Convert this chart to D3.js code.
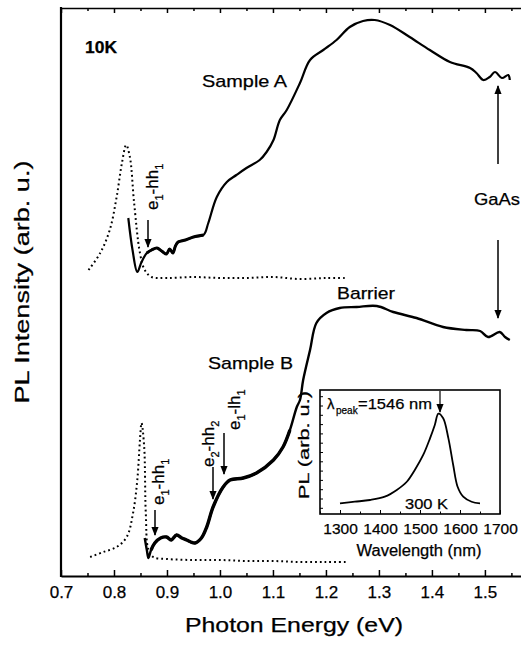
<!DOCTYPE html>
<html>
<head>
<meta charset="utf-8">
<script src="https://cdn.jsdelivr.net/npm/d3@7"></script>
<style>
  body { margin: 0; background: #fff; }
  svg { display: block; font-family: "Liberation Sans", Arial, sans-serif; }
  svg text { stroke: #000; stroke-width: 0.25px; fill: #000; }
</style>
</head>
<body>
<svg width="521" height="645"></svg>
<script>
// photon energy (eV) and PL intensity (arb. u.)
const energyA = [0.827, 0.835, 0.844, 0.852, 0.862, 0.871, 0.881, 0.890, 0.899, 0.905, 0.911, 0.916, 0.921, 0.935, 0.950, 0.969,
  0.978, 0.994, 1.013, 1.031, 1.050, 1.075, 1.088, 1.101, 1.113, 1.126, 1.151, 1.170, 1.195, 1.220, 1.245, 1.270, 1.292,
  1.321, 1.358, 1.396, 1.434, 1.472, 1.484, 1.497, 1.509, 1.519, 1.532, 1.544, 1.547];
const intensityA = [35.8, 32.6, 30.4, 31.4, 32.3, 32.6, 32.8, 32.5, 32.2, 32.7, 32.3, 33.0, 33.4, 33.6, 33.9, 34.1,
  35.3, 37.9, 39.4, 40.1, 40.8, 41.6, 42.4, 43.6, 45.6, 46.6, 49.3, 51.6, 52.6, 53.6, 54.9, 55.5, 55.6,
  55.1, 53.9, 52.6, 51.4, 50.8, 50.3, 49.6, 49.9, 50.4, 49.8, 50.1, 49.6];

const energyARef = [0.752, 0.774, 0.792, 0.805, 0.815, 0.823, 0.830, 0.838, 0.849, 0.858, 0.871, 0.90, 0.95, 1.00, 1.05, 1.10, 1.15, 1.20, 1.24];
const intensityARef = [30.6, 32.3, 34.6, 37.9, 41.3, 43.1, 41.9, 37.3, 32.3, 30.6, 29.9, 29.8, 29.9, 29.8, 29.8, 29.9, 29.7, 29.8, 29.8];

const energyB = [0.858, 0.862, 0.865, 0.870, 0.877, 0.888, 0.899, 0.908, 0.918, 0.928, 0.937, 0.945, 0.953, 0.965, 0.975,
  0.987, 1.006, 1.019, 1.044, 1.069, 1.101, 1.119, 1.132, 1.145, 1.151, 1.157, 1.170, 1.182, 1.201, 1.226, 1.258, 1.296,
  1.327, 1.371, 1.421, 1.465, 1.491, 1.506, 1.528, 1.538, 1.547];
const intensityB = [3.8, 2.6, 1.8, 2.6, 3.3, 3.8, 3.9, 3.6, 4.1, 3.8, 3.6, 3.4, 3.3, 3.8, 4.9,
  6.9, 8.9, 9.6, 9.8, 10.3, 11.6, 12.9, 14.6, 16.9, 17.6, 19.6, 22.6, 25.3, 26.3, 26.8, 26.9, 27.0,
  26.4, 25.8, 24.9, 24.6, 24.5, 23.9, 24.4, 23.9, 23.6];

const energyBRef = [0.755, 0.780, 0.805, 0.824, 0.836, 0.844, 0.849, 0.852, 0.857, 0.860, 0.865, 0.874, 0.90, 0.95, 1.00, 1.05, 1.10, 1.15, 1.20, 1.24];
const intensityBRef = [1.9, 2.4, 2.9, 3.9, 6.3, 9.6, 13.6, 15.3, 12.9, 6.3, 2.6, 1.9, 1.7, 1.6, 1.6, 1.5, 1.5, 1.4, 1.4, 1.4];

// inset: room temperature spectrum
const wavelength = [1300, 1337, 1375, 1412, 1442, 1467, 1487, 1508, 1525, 1537, 1546, 1558, 1571, 1583, 1594, 1608, 1629, 1650];
const intensityRT = [0.086, 0.099, 0.113, 0.140, 0.194, 0.260, 0.355, 0.476, 0.610, 0.718, 0.810, 0.772, 0.610, 0.395, 0.220, 0.140, 0.099, 0.086];

const energyTicks = [0.7, 0.8, 0.9, 1.0, 1.1, 1.2, 1.3, 1.4, 1.5];
const wavelengthTicks = [1300, 1400, 1500, 1600, 1700];

const svg = d3.select('svg');

const x = d3.scaleLinear().domain([0.7, 1.57]).range([61, 522]);
const y = d3.scaleLinear().domain([0, 56.8]).range([576, 8]);

const line = d3.line().curve(d3.curveCatmullRom.alpha(0.5)).x(d => x(d[0])).y(d => y(d[1]));
const zip = (a, b) => a.map((v, i) => [v, b[i]]);

// arrow marker
svg.append('defs').append('marker')
    .attr('id', 'head')
    .attr('markerUnits', 'userSpaceOnUse')
    .attr('viewBox', '0 0 10 10')
    .attr('refX', 9).attr('refY', 5)
    .attr('markerWidth', 9).attr('markerHeight', 9)
    .attr('orient', 'auto')
  .append('path')
    .attr('d', 'M0,1 L10,5 L0,9 Z')
    .attr('fill', '#000');

// curves
const curves = svg.append('g').attr('fill', 'none').attr('stroke', '#000').attr('stroke-linejoin', 'round');
curves.append('path').datum(zip(energyARef, intensityARef))
    .attr('d', line).attr('stroke-width', 2).attr('stroke-dasharray', '1.8,3');
curves.append('path').datum(zip(energyBRef, intensityBRef))
    .attr('d', line).attr('stroke-width', 2).attr('stroke-dasharray', '1.8,3');
curves.append('path').datum(zip(energyA, intensityA))
    .attr('d', line).attr('stroke-width', 2.2);
curves.append('path').datum(zip(energyB, intensityB))
    .attr('d', line).attr('stroke-width', 2.4);
// the noisy low-energy parts look thicker in the scan
curves.append('path').datum(zip(energyA, intensityA).filter(d => d[0] > 0.855 && d[0] < 0.975))
    .attr('d', line).attr('stroke-width', 3);
curves.append('path').datum(zip(energyB, intensityB).filter(d => d[0] > 0.866 && d[0] < 1.14))
    .attr('d', line).attr('stroke-width', 3.4);

// axes
const bottomAxis = svg.append('g')
    .attr('transform', 'translate(0,576)')
    .call(d3.axisBottom(x).tickValues(energyTicks).tickFormat(d3.format('.1f'))
      .tickSizeInner(-6).tickSizeOuter(0).tickPadding(10));
bottomAxis.select('.domain').attr('stroke-width', 2);
bottomAxis.selectAll('.tick line').attr('stroke-width', 1.5);
bottomAxis.selectAll('text').attr('font-size', 17).attr('font-family', null);

svg.append('g')
    .attr('transform', 'translate(0,576)')
    .call(d3.axisBottom(x).tickValues(d3.range(0.75, 1.6, 0.1)).tickFormat('')
      .tickSizeInner(-3).tickSizeOuter(0))
    .call(g => g.select('.domain').remove())
    .selectAll('.tick line').attr('stroke-width', 1.5);

const topAxis = svg.append('g')
    .attr('transform', 'translate(0,8)')
    .call(d3.axisTop(x).tickValues(energyTicks).tickFormat('').tickSizeInner(-5).tickSizeOuter(0));
topAxis.select('.domain').attr('stroke-width', 1.5);
topAxis.selectAll('.tick line').attr('stroke-width', 1.5);
svg.append('g')
    .attr('transform', 'translate(0,8)')
    .call(d3.axisTop(x).tickValues(d3.range(0.75, 1.6, 0.1)).tickFormat('').tickSizeInner(-3).tickSizeOuter(0))
    .call(g => g.select('.domain').remove())
    .selectAll('.tick line').attr('stroke-width', 1.5);

svg.append('line')
    .attr('x1', 61).attr('x2', 61).attr('y1', 7).attr('y2', 577)
    .attr('stroke', '#000').attr('stroke-width', 2.2);

svg.append('text')
    .attr('x', 294).attr('y', 632)
    .attr('text-anchor', 'middle')
    .attr('font-size', 20)
    .attr('textLength', 218).attr('lengthAdjust', 'spacingAndGlyphs')
    .text('Photon Energy (eV)');

svg.append('text')
    .attr('transform', 'translate(29,282) rotate(-90)')
    .attr('text-anchor', 'middle')
    .attr('font-size', 20)
    .attr('textLength', 243).attr('lengthAdjust', 'spacingAndGlyphs')
    .text('PL Intensity (arb. u.)');

// labels
function label(txt, px, py, len, size, weight) {
  svg.append('text')
      .attr('x', px).attr('y', py)
      .attr('font-size', size || 17)
      .attr('font-weight', weight || null)
      .attr('textLength', len).attr('lengthAdjust', 'spacingAndGlyphs')
      .text(txt);
}
label('10K', 85, 53, 32, 16, 'bold');
label('Sample A', 202, 87, 85);
label('GaAs', 474, 205, 46);
label('Barrier', 337, 299, 58);
label('Sample B', 208, 369, 85);

// rotated transition labels with subscripts
function transition(parts, px, py) {
  const t = svg.append('text')
      .attr('transform', 'translate(' + px + ',' + py + ') rotate(-90)')
      .attr('font-size', 17);
  parts.forEach(p => {
    t.append('tspan')
      .attr('font-size', p[1] ? 11 : 17)
      .attr('dy', p[1] ? 5 : (p[2] ? -5 : 0))
      .text(p[0]);
  });
}
transition([['e'], ['1', 1], ['-hh', 0, 1], ['1', 1]], 158, 210);
transition([['e'], ['1', 1], ['-hh', 0, 1], ['1', 1]], 164, 505);
transition([['e'], ['2', 1], ['-hh', 0, 1], ['2', 1]], 214, 467);
transition([['e'], ['1', 1], ['-lh', 0, 1], ['1', 1]], 240, 430);

function arrow(x1, y1, x2, y2) {
  svg.append('line')
      .attr('x1', x1).attr('y1', y1).attr('x2', x2).attr('y2', y2)
      .attr('stroke', '#000').attr('stroke-width', 1.5)
      .attr('marker-end', 'url(#head)');
}
arrow(148, 220, 148, 247);
arrow(155, 510, 155, 535);
arrow(213, 467, 213, 499);
arrow(224, 433, 224, 474);
arrow(498, 164, 498, 86);
arrow(498, 240, 498, 318);

// inset
const ix = d3.scaleLinear().domain([1250, 1700]).range([320, 500]);
const iy = d3.scaleLinear().domain([0, 1]).range([514, 390]);
const inset = svg.append('g');

inset.append('rect')
    .attr('x', 320).attr('y', 390).attr('width', 180).attr('height', 124)
    .attr('fill', '#fff').attr('stroke', '#000').attr('stroke-width', 1.6);

const ibottom = inset.append('g')
    .attr('transform', 'translate(0,514)')
    .call(d3.axisBottom(ix).tickValues(wavelengthTicks).tickFormat(d3.format('d'))
      .tickSizeInner(-4).tickSizeOuter(0).tickPadding(9));
ibottom.select('.domain').remove();
ibottom.selectAll('text').attr('font-size', 15.5).attr('font-family', null);
inset.append('g')
    .attr('transform', 'translate(0,514)')
    .call(d3.axisBottom(ix).tickValues([1250, 1350, 1450, 1550, 1650]).tickFormat('').tickSizeInner(-2.5).tickSizeOuter(0))
    .call(g => g.select('.domain').remove());
inset.append('g')
    .attr('transform', 'translate(320,0)')
    .call(d3.axisRight(iy).tickValues(d3.range(0.05, 1, 0.075)).tickFormat('').tickSizeInner(3).tickSizeOuter(0))
    .call(g => g.select('.domain').remove());

inset.append('path')
    .datum(zip(wavelength, intensityRT))
    .attr('d', d3.line().curve(d3.curveCatmullRom.alpha(0.5)).x(d => ix(d[0])).y(d => iy(d[1])))
    .attr('fill', 'none').attr('stroke', '#000').attr('stroke-width', 1.8);

const peak = inset.append('text').attr('y', 409).attr('font-size', 15);
peak.append('tspan').attr('x', 327).text('λ');
peak.append('tspan').attr('x', 336).attr('dy', 5).attr('font-size', 10).text('peak');
peak.append('tspan').attr('x', 358).attr('dy', -5)
    .attr('textLength', 74).attr('lengthAdjust', 'spacingAndGlyphs').text('=1546 nm');
inset.append('line')
    .attr('x1', 440).attr('x2', 440).attr('y1', 391).attr('y2', 412)
    .attr('stroke', '#000').attr('stroke-width', 1.2)
    .attr('marker-end', 'url(#head)');

inset.append('text')
    .attr('x', 405).attr('y', 509).attr('font-size', 15)
    .attr('textLength', 43).attr('lengthAdjust', 'spacingAndGlyphs')
    .text('300 K');

inset.append('text')
    .attr('transform', 'translate(309,445) rotate(-90)')
    .attr('text-anchor', 'middle').attr('font-size', 15)
    .attr('textLength', 108).attr('lengthAdjust', 'spacingAndGlyphs')
    .text('PL (arb. u.)');

inset.append('text')
    .attr('x', 419).attr('y', 556)
    .attr('text-anchor', 'middle').attr('font-size', 16)
    .attr('textLength', 125).attr('lengthAdjust', 'spacingAndGlyphs')
    .text('Wavelength (nm)');
</script>
</body>
</html>
